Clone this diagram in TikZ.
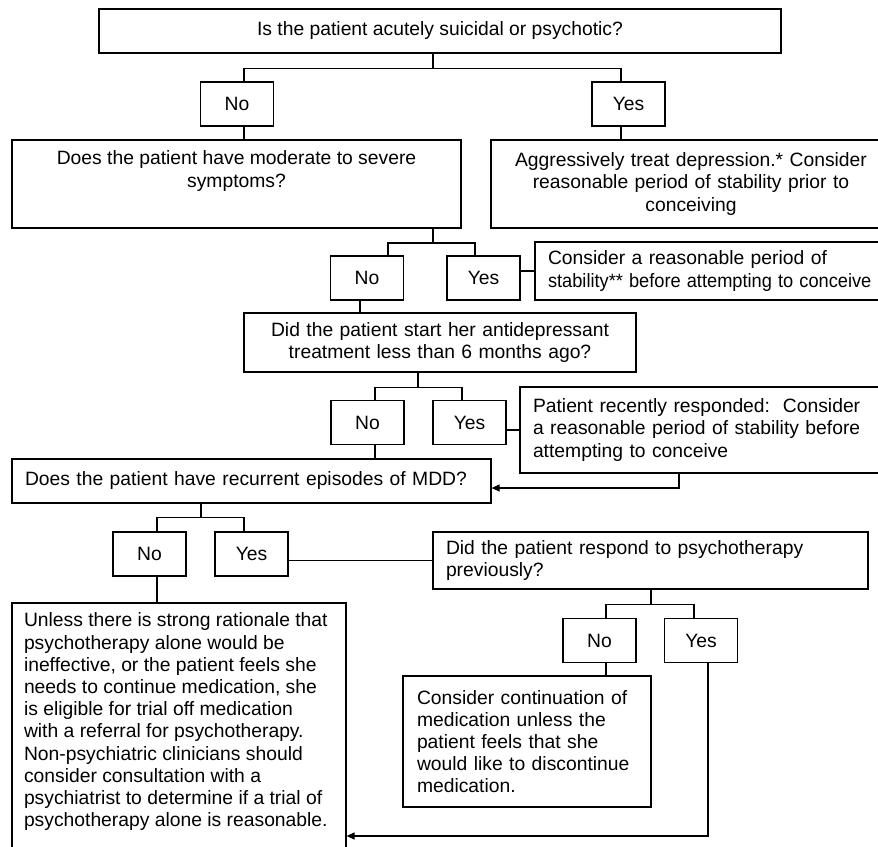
\documentclass[tikz,border=0pt]{standalone}
\usepackage{fontspec}
\usepackage{graphicx}
\setmainfont{Liberation Sans}
\usetikzlibrary{arrows.meta}

\tikzset{
  box/.style={draw, line width=1.2pt, inner sep=0pt, font=\fontsize{19.3}{22.2}\selectfont},
  answer/.style={box, minimum width=73pt, minimum height=44pt},
  centred/.style={box, align=center},
  leftish/.style={box, align=left, inner xsep=13pt},
  link/.style={line width=1.2pt},
  backlink/.style={link, -{Triangle[length=8pt,width=7pt]}}
}

\begin{document}
\begin{tikzpicture}[x=1pt, y=-1pt]
  \useasboundingbox (0,0) rectangle (878,846);

  % questions and answers, row by row
  \node[centred, minimum width=682pt, minimum height=44pt] (suicidal) at (440,31) {Is the patient acutely suicidal or psychotic?};
  \node[answer] (no1) at (237,104) {No};
  \node[answer] (yes1) at (628.5,104) {Yes};

  \node[box, minimum width=449pt, minimum height=88pt] (severe) at (236.5,184)
    {\parbox[c][66pt][t]{449pt}{\centering Does the patient have moderate to severe\\ symptoms?}};
  \node[centred, text width=380pt, minimum width=400pt, minimum height=88pt] (treat) at (691,184)
    {Aggressively treat depression.* Consider\\ reasonable period of stability prior to\\ conceiving};

  \node[answer] (no2) at (367,278) {No};
  \node[answer] (yes2) at (483.5,278) {Yes};
  \node[leftish, text width=360pt, minimum height=58pt] (stable1) at (728,271)
    {Consider a reasonable period of\\ \scalebox{0.945}[1]{stability** before attempting to conceive}};

  \node[centred, text width=392pt, minimum height=59pt] (recent) at (440,342.5)
    {Did the patient start her antidepressant\\ treatment less than 6 months ago?};
  \node[answer] (no3) at (367.5,422.5) {No};
  \node[answer] (yes3) at (469.5,422.5) {Yes};
  \node[leftish, text width=345pt, minimum height=86pt] (stable2) at (705.5,430)
    {Patient recently responded:\ \ Consider\\ a reasonable period of stability before\\ attempting to conceive};

  \node[leftish, text width=453pt, minimum height=44pt] (mdd) at (251.5,481) {Does the patient have recurrent episodes of MDD?};
  \node[answer] (no4) at (149.5,554) {No};
  \node[answer] (yes4) at (251.5,554) {Yes};
  \node[leftish, text width=409pt, minimum height=57pt] (psycho) at (650.5,560.5)
    {Did the patient respond to psychotherapy\\ previously?};
  \node[answer] (no5) at (599.5,640.5) {No};
  \node[answer] (yes5) at (701,640.5) {Yes};

  \node[box, inner xsep=12pt, minimum height=272pt] (trialoff) at (179,739)
    {\parbox[c][252pt][t]{310pt}{\raggedright Unless there is strong rationale that\\ psychotherapy alone would be\\ ineffective, or the patient feels she\\ needs to continue medication, she\\ is eligible for trial off medication\\ with a referral for psychotherapy.\\ Non-psychiatric clinicians should\\ consider consultation with a\\ psychiatrist to determine if a trial of\\ psychotherapy alone is reasonable.}};
  \node[leftish, inner xsep=14pt, text width=220pt, minimum height=131pt] (continue) at (527,741.5)
    {Consider continuation of\\ medication unless the\\ patient feels that she\\ would like to discontinue\\ medication.};

  % connectors
  \draw[link] ([xshift=-7pt]suicidal.south) -- ++(0,15) coordinate (j1);
  \draw[link] ([xshift=7pt]no1.north) |- (j1) -| ([xshift=-7.5pt]yes1.north);
  \draw[link] ([xshift=7pt]no1.south) |- (severe.north);
  \draw[link] ([xshift=-7.5pt]yes1.south) |- (treat.north);

  \coordinate (j2) at (433,243);
  \draw[link] (j2) -- (j2 |- severe.south);
  \draw[link] ([xshift=21pt]no2.north) |- (j2) -| ([xshift=-8.5pt]yes2.north);
  \draw[link] (stable1.west) -- (stable1.west -| yes2.east);
  \draw[link] ([xshift=-7pt]no2.south) |- (recent.north);

  \draw[link] ([xshift=-22pt]recent.south) -- ++(0,15) coordinate (j3);
  \draw[link] ([xshift=7.5pt]no3.north) |- (j3) -| ([xshift=-7.5pt]yes3.north);
  \draw[link] (stable2.west) -- (stable2.west -| yes3.east);
  \draw[link] ([xshift=7.5pt]no3.south) |- (mdd.north);
  \draw[backlink] ([xshift=-26.5pt]stable2.south) |- ([yshift=-7pt]mdd.east);

  \draw[link] ([xshift=-50.5pt]mdd.south) -- ++(0,14) coordinate (j4);
  \draw[link] ([xshift=7.5pt]no4.north) |- (j4) -| ([xshift=-7.5pt]yes4.north);
  \draw[link] (psycho.west) -- (psycho.west -| yes4.east);
  \draw[link] ([xshift=7.5pt]no4.south) |- (trialoff.north);

  \draw[link] ([xshift=0.5pt]psycho.south) -- ++(0,15) coordinate (j5);
  \draw[link] ([xshift=6.5pt]no5.north) |- (j5) -| ([xshift=-7pt]yes5.north);
  \draw[link] ([xshift=6.5pt]no5.south) |- (continue.north);
  \draw[backlink] ([xshift=7pt]yes5.south) |- ([yshift=-97pt]trialoff.east);
\end{tikzpicture}
\end{document}
